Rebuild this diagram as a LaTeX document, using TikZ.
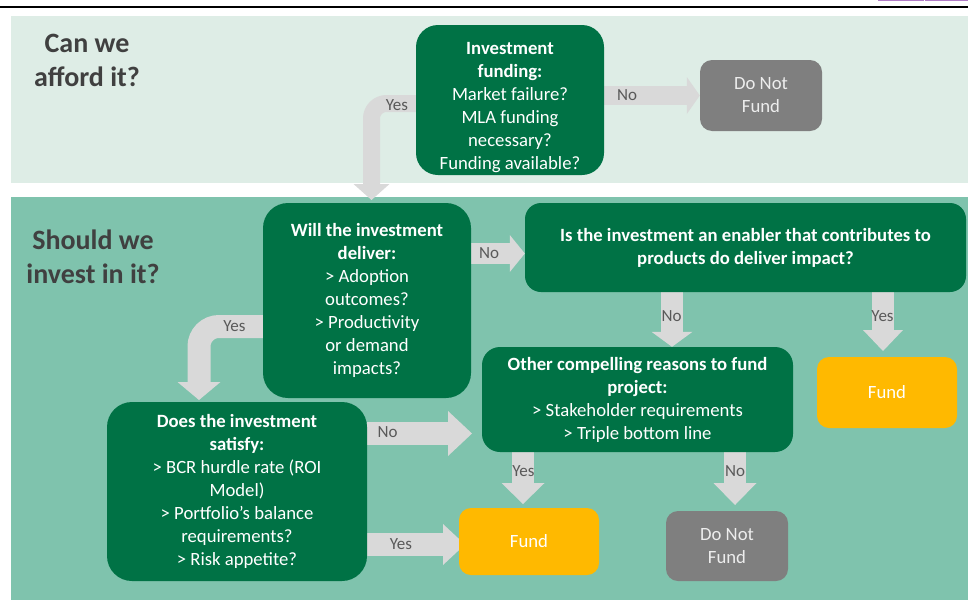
\documentclass[tikz,border=0pt]{standalone}
\usepackage{fontspec}
\setmainfont{Carlito}
\usetikzlibrary{arrows.meta,calc}
\definecolor{bandtop}{HTML}{DEEDE6}
\definecolor{bandbot}{HTML}{7FC3AD}
\definecolor{boxgreen}{HTML}{007245}
\definecolor{boxgray}{HTML}{7F7F7F}
\definecolor{boxyellow}{HTML}{FFB900}
\definecolor{arrgray}{HTML}{D9D9D9}
\definecolor{titlegray}{HTML}{404040}
\definecolor{lblgray}{HTML}{595959}
\definecolor{tabpurple}{HTML}{B07CC6}
\pgfdeclarelayer{back}
\pgfdeclarelayer{mid}
\pgfsetlayers{back,mid,main}
\begin{document}
\begin{tikzpicture}[x=1pt,y=-1pt,
  gbox/.style={fill=boxgreen,text=white,align=center,inner sep=0pt,font=\fontsize{18.7}{23}\selectfont},
  graybox/.style={fill=boxgray,text=white!93!black,align=center,inner sep=0pt,rounded corners=12pt,minimum width=122pt,font=\fontsize{18.7}{23}\selectfont},
  ybox/.style={fill=boxyellow,text=white,align=center,inner sep=0pt,rounded corners=12pt,minimum width=140pt,font=\fontsize{18.7}{23}\selectfont},
  ttl/.style={text=titlegray,align=center,inner sep=0pt,font=\fontsize{28}{34}\selectfont\bfseries},
  lbl/.style={text=lblgray,inner sep=0pt,font=\fontsize{17}{20}\selectfont},
  blk/.style={draw=arrgray,line width=#1}
]
\useasboundingbox (0,0) rectangle (968,600);
\begin{pgfonlayer}{back}
  \fill[white] (0,0) rectangle (968,600);
  \fill[bandtop] (11,16) rectangle (968,183);
  \fill[bandbot] (11,197) rectangle (968,600);
  \draw[line width=2pt] (0,6.5) -- (968,6.5);
  \draw[tabpurple,line width=1pt] (878,-3) rectangle (923,0.8);
  \draw[tabpurple,line width=1pt] (925,-3) rectangle (972,0.8);
\end{pgfonlayer}

% titles
\node[ttl] (t1) at (87,60) {Can we\\afford it?};
\node[ttl] (t2) at (93,256.5) {Should we\\invest in it?};

% boxes
\node[gbox,rounded corners=22pt,minimum width=188pt,minimum height=150pt] (fundq) at (510,100) {};
\node[text=white,align=center,inner sep=0pt,font=\fontsize{18.7}{23}\selectfont] (fundqt) at (510,107.5)
  {\textbf{Investment}\\\textbf{funding:}\\Market failure?\\MLA funding\\necessary?\\Funding available?};
\node[graybox,minimum height=71pt] (dnf1) at (761,95.5) {Do Not\\Fund};
\node[gbox,rounded corners=25pt,minimum width=208pt,minimum height=195pt] (will) at (367,300.5)
  {\textbf{Will the investment}\\\textbf{deliver:}\\> Adoption\\outcomes?\\> Productivity\\or demand\\impacts?};
\node[gbox,rounded corners=16pt,minimum width=441pt,minimum height=89pt] (enab) at (745.5,247.5)
  {\textbf{Is the investment an enabler that contributes to}\\\textbf{products do deliver impact?}};
\node[ybox,minimum height=71pt] (fund1) at (887,392.5) {Fund};
\node[gbox,rounded corners=18pt,minimum width=311pt,minimum height=105pt] (other) at (637.5,399.5)
  {\textbf{Other compelling reasons to fund}\\\textbf{project:}\\> Stakeholder requirements\\> Triple bottom line};
\node[gbox,rounded corners=25pt,minimum width=260pt,minimum height=179pt] (does) at (237,491.5)
  {\textbf{Does the investment}\\\textbf{satisfy:}\\> BCR hurdle rate (ROI\\Model)\\> Portfolio’s balance\\requirements?\\> Risk appetite?};
\node[ybox,minimum height=67pt] (fund2) at (529,541.5) {Fund};
\node[graybox,minimum height=70pt] (dnf2) at (727,546) {Do Not\\Fund};

% free arrow ends
\coordinate (tipA) at (371.5,200);
\coordinate (tipB) at (883,351);
\coordinate (tipC) at (199,400);
\coordinate (tipD) at (472,433.5);
\coordinate (tipE) at (465,544.5);
\coordinate (tipF) at (523,504);
\coordinate (tipG) at (735,505);

\begin{pgfonlayer}{mid}
  \draw[blk=19pt,-{Triangle[length=13pt,width=37pt,line width=0pt]}] (fundq.east |- dnf1.center) -- (dnf1.west);
  \draw[blk=17pt,rounded corners=15pt,-{Triangle[length=16pt,width=36pt,line width=0pt]}] (fundq.west |- 0,103.5) -| (tipA);
  \draw[blk=21pt,-{Triangle[length=15pt,width=37pt,line width=0pt]}] (will.east |- 0,253.5) -- (enab.west |- 0,253.5);
  \draw[blk=22pt,-{Triangle[length=15pt,width=41pt,line width=0pt]}] (enab.south -| 672,0) -- (other.north -| 672,0);
  \draw[blk=22pt,-{Triangle[length=21pt,width=40pt,line width=0pt]}] (enab.south -| 883,0) -- (tipB);
  \draw[blk=23pt,rounded corners=20pt,-{Triangle[length=18pt,width=43pt,line width=0pt]}] (will.west |- 0,326.5) -| (tipC);
  \draw[blk=23pt,-{Triangle[length=24pt,width=45pt,line width=0pt]}] (does.east |- 0,433.5) -- (tipD);
  \draw[blk=23pt,-{Triangle[length=22pt,width=41pt,line width=0pt]}] (does.east |- 0,544.5) -- (tipE);
  \draw[blk=22pt,-{Triangle[length=21pt,width=43pt,line width=0pt]}] (other.south -| 523,0) -- (tipF);
  \draw[blk=22pt,-{Triangle[length=22pt,width=43pt,line width=0pt]}] (other.south -| 735,0) -- (tipG);
\end{pgfonlayer}

% labels
\node[lbl] (l1) at (627,95) {No};
\node[lbl] (l2) at (397,105) {Yes};
\node[lbl] (l3) at (489,253) {No};
\node[lbl] (l4) at (671.5,316.5) {No};
\node[lbl] (l5) at (882.5,316.5) {Yes};
\node[lbl] (l6) at (234.5,326) {Yes};
\node[lbl] (l7) at (387.5,432.5) {No};
\node[lbl] (l8) at (401,544) {Yes};
\node[lbl] (l9) at (523.5,471) {Yes};
\node[lbl] (l10) at (735,471.5) {No};
\end{tikzpicture}
\end{document}
